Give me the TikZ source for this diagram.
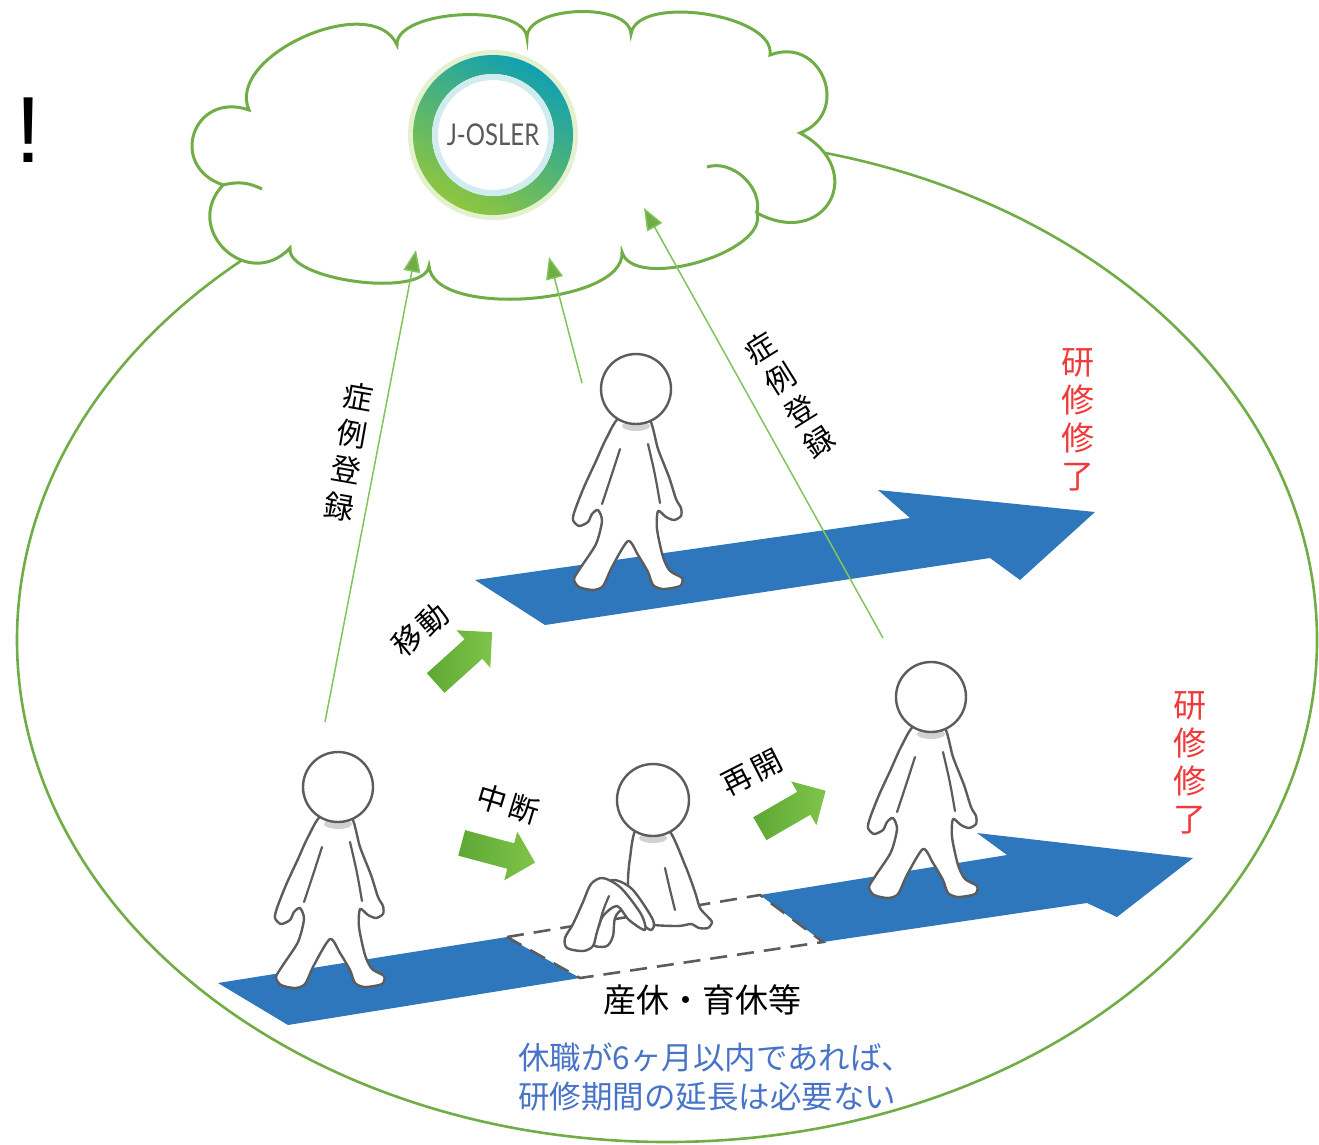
\documentclass[tikz,border=0pt]{standalone}
\usepackage{fontspec}
\newfontfamily\jpfont{Noto Sans CJK JP}
\newfontfamily\logofont{Lato}
\newfontfamily\bangfont{Liberation Sans}
\usetikzlibrary{arrows.meta,shapes.arrows}

\definecolor{leafgreen}{RGB}{112,173,71}
\definecolor{threadgreen}{RGB}{128,196,92}
\definecolor{laneblue}{RGB}{47,119,188}
\definecolor{figink}{RGB}{92,92,92}
\definecolor{donered}{RGB}{240,58,58}
\definecolor{noteblue}{RGB}{72,116,200}
\definecolor{ringteal}{RGB}{18,160,176}
\definecolor{ringlime}{RGB}{142,198,62}
\definecolor{godark}{RGB}{92,168,52}
\definecolor{golight}{RGB}{128,196,74}

\begin{document}
\begin{tikzpicture}[x=1pt,y=1pt]%
        \tikzset{%
            person/.style={draw=figink, line width=2.4pt, fill=white, line join=round},
            crease/.style={draw=figink, line width=2.2pt, line cap=round},
            register/.style={draw=threadgreen, line width=1.5pt, -{Triangle[length=22pt,width=17pt,fill=leafgreen]}},
            goarrow/.style={single arrow, draw=none, shade, left color=godark, right color=golight,
                minimum height=76pt, minimum width=0pt, inner xsep=0pt, inner ysep=13pt,
                single arrow head extend=12pt},
            gaptrace/.style={draw=figink, line width=2.6pt, dash pattern=on 17pt off 10pt},
            vlabel/.style={font=\jpfont\fontsize{30}{37}\selectfont, align=center, inner sep=0pt},
            slabel/.style={font=\jpfont\fontsize{30}{30}\selectfont, inner sep=0pt},
            donelabel/.style={font=\jpfont\fontsize{33}{38}\selectfont, text=donered, align=center, inner sep=0pt},
            pics/walker/.style={code={%
                \path[person] plot[smooth cycle, tension=0.45] coordinates {
                    (-16,-28) (-30,-50) (-40,-72) (-52,-98) (-61,-121) (-63,-131) (-57,-137)
                    (-48,-133) (-44,-125) (-38,-121) (-34,-132) (-40,-155) (-55,-178) (-62,-190)
                    (-57,-198) (-43,-201) (-33,-197) (-24,-178) (-8,-152) (2,-166) (12,-183)
                    (17,-196) (27,-200) (44,-197) (46,-189) (34,-182) (27,-168) (21,-140)
                    (22,-122) (30,-128) (38,-131) (45,-127) (45,-119) (40,-110) (33,-88)
                    (22,-60) (12,-28)};
                \draw[crease] (-16,-60) .. controls (-24,-85) .. (-34,-115);
                \draw[crease] (12,-55) .. controls (19,-85) .. (24,-114);
                \fill[black!18] (0,-37) ellipse[x radius=14, y radius=5];
                \path[person] (0,0) circle[radius=35];
            }},
            pics/sitter/.style={code={%
                \path[person] plot[smooth cycle, tension=0.45] coordinates {
                    (-16,-28) (-23,-58) (-25,-85) (-20,-112) (-5,-124) (25,-126) (38,-124)
                    (46,-128) (55,-128) (59,-122) (54,-116) (47,-108) (42,-92) (32,-65) (14,-28)};
                \draw[crease] (12,-68) .. controls (17,-90) .. (22,-110);
                % folded legs, the far one first
                \path[person] plot[smooth cycle, tension=0.5] coordinates {
                    (0,-120) (-20,-90) (-38,-80) (-50,-86) (-56,-102) (-62,-124) (-64,-138)
                    (-58,-146) (-46,-146) (-40,-136) (-38,-118) (-30,-110) (-14,-122) (-2,-130)};
                \path[person] plot[smooth cycle, tension=0.5] coordinates {
                    (-12,-114) (-32,-88) (-50,-78) (-62,-84) (-70,-102) (-80,-124) (-88,-138)
                    (-86,-148) (-70,-151) (-60,-146) (-56,-132) (-50,-116) (-36,-106) (-24,-120) (-8,-130)};
                \draw[crease] (-44,-96) .. controls (-50,-110) .. (-54,-126);
                \fill[black!18] (0,-38) ellipse[x radius=14, y radius=5];
                \path[person] (0,0) circle[radius=36];
            }},
        }%
        \useasboundingbox (0,0) rectangle (1319,-1145);
        % outer loop and the cloud on top of it
        \draw[leafgreen, line width=2.6pt] (667,-640) ellipse[x radius=650, y radius=502];
        \path[draw=leafgreen, line width=3pt, fill=white] (249,-110)
            to[bend left=90, looseness=0.95] (397,-45)
            to[bend left=90, looseness=0.7] (527,-38)
            to[bend left=90, looseness=0.8] (631,-34)
            to[bend left=90, looseness=0.75] (770,-55)
            to[bend left=90, looseness=1.7] (800,-133)
            to[bend left=90, looseness=2.2] (757,-213)
            to[bend left=90, looseness=0.75] (622,-252)
            to[bend left=90, looseness=0.7] (429,-266)
            to[bend left=90, looseness=0.6] (290,-248)
            to[bend left=90, looseness=1.7] (223,-185)
            to[bend left=90, looseness=1.9] (249,-110) -- cycle;
        \draw[leafgreen, line width=3pt] (223,-185) to[bend left=20] (262,-189);
        \draw[leafgreen, line width=3pt] (707,-167) to[bend left=60] (757,-213);
        % logo ring
        \coordinate (hub) at (493,-135);
        \draw[ringlime!25, line width=6pt] (hub) circle[radius=82];
        \shade[top color=ringteal, bottom color=ringlime, shading angle=-30, even odd rule]
            (hub) circle[radius=80] circle[radius=61];
        \draw[ringteal!20, line width=6pt] (hub) circle[radius=58];
        \node[font=\logofont\fontsize{30}{30}\selectfont, text=black!65, xscale=0.8] (logo) at (hub) {J-OSLER};
        % lanes
        \fill[laneblue] (475,-580) -- (910,-518) -- (878,-490) -- (1095,-512) -- (1020,-580)
            -- (990,-558) -- (545,-625) -- cycle;
        \fill[laneblue] (218,-983) -- (507,-937) -- (580,-978) -- (288,-1025) -- cycle;
        \fill[laneblue] (760,-895) -- (1007,-855) -- (977,-833) -- (1193,-858) -- (1117,-917)
            -- (1087,-903) -- (823,-942) -- cycle;
        \draw[gaptrace] (507,-937) -- (760,-895) -- (823,-942) -- (580,-978) -- cycle;
        % registrations into the cloud
        \coordinate (regA from) at (325,-722);
        \coordinate (regA to) at (416,-250);
        \coordinate (regB from) at (582,-383);
        \coordinate (regB to) at (549,-257);
        \coordinate (regC from) at (883,-638);
        \coordinate (regC to) at (644,-208);
        \draw[register] (regA from) -- (regA to);
        \draw[register] (regB from) -- (regB to);
        \draw[register] (regC from) -- (regC to);
        % steps
        \node[goarrow, rotate=42] (moveArrow) at (459,-662) {};
        \node[goarrow, rotate=-15] (pauseArrow) at (492,-851) {};
        \node[goarrow, rotate=30] (resumeArrow) at (787,-813) {};
        % people
        \pic at (338,-787) {walker};
        \pic at (636,-389) {walker};
        \pic at (653,-800) {sitter};
        \pic at (931,-697) {walker};
        % labels
        \node[vlabel, rotate=-10] (regALabel) at (349,-452) {症\\例\\登\\録};
        \node[vlabel, rotate=32] (regCLabel) at (790,-395) {症\\例\\登\\録};
        \node[slabel, rotate=40] (moveLabel) at (420,-630) {移\kern3pt 動};
        \node[slabel, rotate=-17] (pauseLabel) at (508,-804) {中\kern3pt 断};
        \node[slabel, rotate=27] (resumeLabel) at (752,-773) {再\kern3pt 開};
        \node[donelabel] (doneTop) at (1078,-420) {研\\修\\修\\了};
        \node[donelabel] (doneLow) at (1190,-763) {研\\修\\修\\了};
        \node[font=\jpfont\fontsize{33}{33}\selectfont, inner sep=0pt] (leave) at (702,-1000) {産休・育休等};
        \node[font=\jpfont\fontsize{31.5}{39}\selectfont, text=noteblue, align=left, anchor=west, inner sep=0pt]
            (rule) at (518,-1077) {休職が6ヶ月以内であれば、\\研修期間の延長は必要ない};
        \node[font=\bangfont\fontsize{94}{94}\selectfont, anchor=base, inner sep=0pt] (bang) at (29,-162) {!};
\end{tikzpicture}
\end{document}
